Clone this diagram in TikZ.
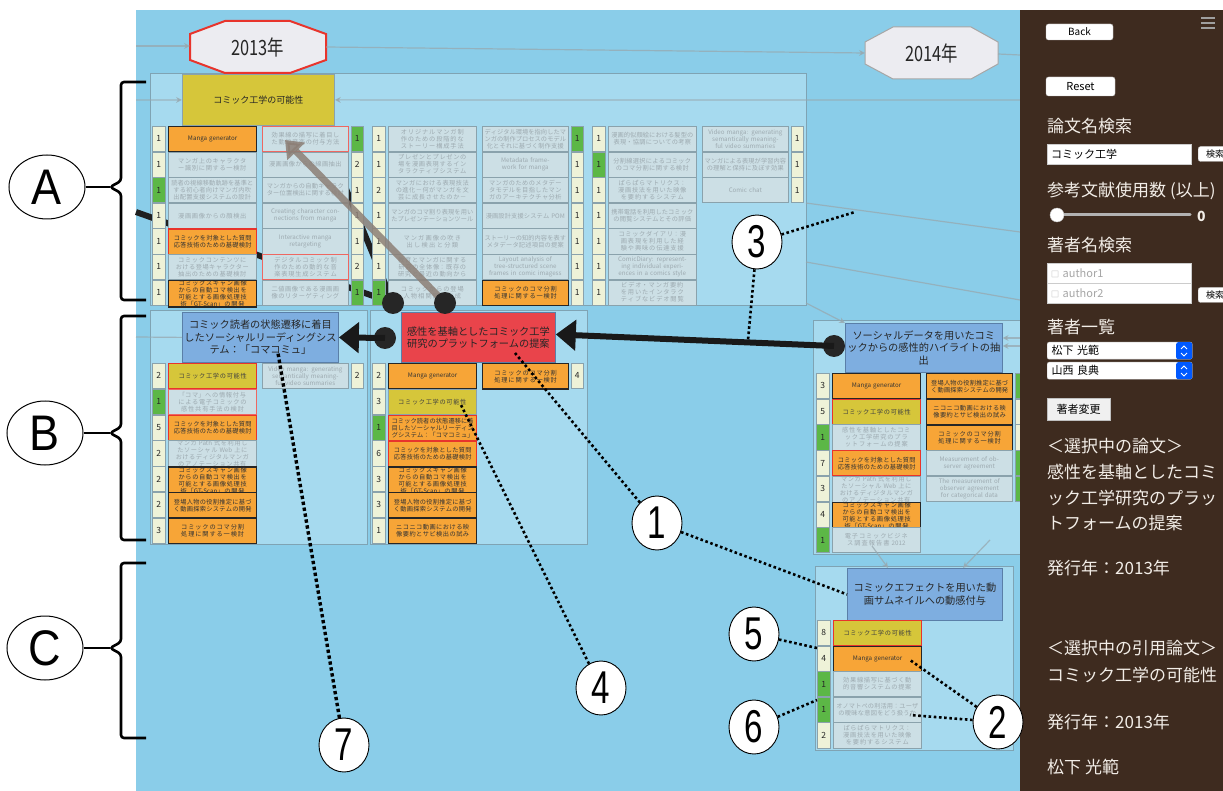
\documentclass[tikz,border=0pt]{standalone}
\usepackage{fontspec}
\setmainfont{Noto Sans CJK JP}
\newfontfamily\numfont{Liberation Sans}
\XeTeXlinebreaklocale "ja"
\XeTeXlinebreakskip=0pt plus 1pt
\usetikzlibrary{arrows.meta,shapes.geometric}

\definecolor{canvas}{HTML}{8ACDE9}
\definecolor{regionfill}{HTML}{A6DAEF}
\definecolor{regionline}{HTML}{7FA3B3}
\definecolor{paperfill}{HTML}{CCDFE5}
\definecolor{paperline}{HTML}{8AA2AC}
\definecolor{papertext}{HTML}{9DAAB0}
\definecolor{cream}{HTML}{EEF2D8}
\definecolor{grn}{HTML}{5CB746}
\definecolor{orng}{HTML}{F7A537}
\definecolor{yelw}{HTML}{D6C63A}
\definecolor{redb}{HTML}{E8342C}
\definecolor{bluenode}{HTML}{7EAEE0}
\definecolor{nodeline}{HTML}{5A7FA8}
\definecolor{rednode}{HTML}{E9444B}
\definecolor{panel}{HTML}{3E2B1F}
\definecolor{paneltext}{HTML}{F2EDE7}
\definecolor{linkgray}{HTML}{98A8AF}
\definecolor{taupe}{HTML}{8C7F76}
\definecolor{yearfill}{HTML}{ECECF1}

\newcommand\smallpaper{\fontsize{6.2}{7}\selectfont}

% one citation row: count box on the left, title box to its right
\newcommand\lrow[7]{%
  \node[tally,#4] (#1n) at (#2,#3) {#5};
  \node[paper,#6] (#1) at ([xshift=16pt]#2,#3) {#7};}
% one citation row in the second column: title box, count box on the right
\newcommand\rrow[7]{%
  \node[paper,pwide,#4] (#1) at ([xshift=110pt]#2,#3) {#5};
  \node[tally,tallyr,#6] (#1n) at ([xshift=199pt]#2,#3) {#7};}
% thin numerals for the call-outs
\newcommand\callout[1]{\scalebox{0.72}[1]{#1}}

\tikzset{
  paper/.style={anchor=north west, draw=paperline, fill=paperfill, text=papertext,
    line width=0.6pt, minimum width=88pt, minimum height=25.2pt, text width=85pt,
    align=center, inner sep=0pt, font=\smallpaper},
  pwide/.style={minimum width=86pt, text width=83pt},
  orb/.style={fill=orng, draw=black!85, line width=1.3pt, text=black!80},
  orr/.style={fill=orng, draw=redb, line width=1.3pt, text=black!80},
  yelr/.style={fill=yelw, draw=redb, line width=1.3pt, text=black!75},
  yelg/.style={fill=yelw, draw=paperline, text=black!75},
  grr/.style={draw=redb!75, line width=1pt},
  tally/.style={anchor=north west, draw=paperline, fill=cream, line width=0.6pt,
    minimum width=13pt, minimum height=25.2pt, inner sep=0pt,
    font=\fontsize{8.5}{9}\selectfont, text=black!85},
  tallyr/.style={minimum width=12pt},
  greenbox/.style={fill=grn},
  region/.style={draw=regionline, fill=regionfill, line width=0.8pt},
  mainnode/.style={anchor=north west, draw=nodeline, line width=0.8pt, align=center,
    inner sep=2pt, font=\fontsize{10.2}{12.5}\selectfont, text=black!85},
  link/.style={draw=linkgray, line width=1.2pt, opacity=0.75},
  linkarrow/.style={link, -{Stealth[length=6pt,width=6pt]}},
  blackline/.style={draw=black!88, line width=6pt},
  hub/.style={circle, fill=black!85, minimum size=22pt, inner sep=0pt},
  bigarrow/.style={draw=black!90, line width=6pt, -{Triangle[length=20pt,width=30pt]}},
  taupearrow/.style={draw=taupe, line width=7pt, opacity=0.85, -{Triangle[length=16pt,width=24pt]}},
  dots/.style={draw=black, line width=2.6pt, dash pattern=on 2.6pt off 2.6pt},
  numnode/.style={ellipse, draw=black, line width=0.9pt, fill=white, minimum width=50pt,
    minimum height=54pt, inner sep=0pt, font=\numfont\fontsize{46}{46}\selectfont},
  letternode/.style={ellipse, draw=black, line width=1pt, fill=white, minimum width=76pt,
    minimum height=64pt, inner sep=0pt, font=\numfont\fontsize{50}{50}\selectfont},
  brace/.style={draw=black, line width=2.6pt, rounded corners=3pt},
  yearshape/.style={fill=yearfill, line width=1pt},
  yearlabel/.style={minimum width=136pt, minimum height=52pt, inner sep=0pt,
    font=\fontsize{21}{21}\selectfont, text=black!85},
  paneltxt/.style={anchor=west, text=paneltext, inner sep=0pt, font=\fontsize{17}{17}\selectfont},
  btn/.style={fill=white, draw=gray!50, rounded corners=2.5pt, inner sep=0pt, text=black},
  field/.style={anchor=north west, fill=white, draw=gray!40, inner sep=0pt, text width=140pt,
    minimum width=144pt, minimum height=20pt, align=left, font=\fontsize{11}{11}\selectfont},
}

\begin{document}
\begin{tikzpicture}[x=1pt,y=-1pt]
\useasboundingbox (0,0) rectangle (1223,791);
\fill[white] (0,0) rectangle (1223,791);
\fill[canvas] (136,10) rectangle (1020,791);

% ---------- group frames ----------
\draw[region] (150,73) rectangle (806,305);
\draw[region] (150,310) rectangle (367,544);
\draw[region] (370,310) rectangle (587,544);
\draw[region] (813,320) rectangle (1030,554);
\draw[region] (815,566) rectangle (1013,750);

% ---------- year labels ----------
\draw[yearshape, draw=redb, line width=2pt] (190,34) -- (225,21) -- (290,21) -- (326,34)
  -- (326,60) -- (290,73) -- (225,73) -- (190,60) -- cycle;
\node[yearlabel] (y13) at (258,47) {\scalebox{0.78}[1]{2013年}};
\draw[yearshape, draw=gray!70] (865,42) -- (893,27) -- (971,27) -- (998,42)
  -- (998,64) -- (971,79) -- (893,79) -- (865,64) -- cycle;
\node[yearlabel, minimum width=133pt] (y14) at (931.5,53) {\scalebox{0.78}[1]{2014年}};

% ---------- faint citation links ----------
\coordinate (yl0) at (136,46);
\coordinate (yl1) at (1020,55);
\draw[linkarrow] (yl0) -- (190,46);
\draw[linkarrow] (326,47) -- (865,53);
\draw[link] (998,54) -- (yl1);
\coordinate (hl0) at (136,100);
\coordinate (hl1) at (1020,100);
\coordinate (bl0) at (136,337);
\coordinate (fl1) at (806,203);
\coordinate (fl2) at (1020,232);
\coordinate (fl3) at (806,262);
\coordinate (fl4) at (1020,300);
\coordinate (fl5) at (806,303);
\coordinate (fl6) at (1020,338);
\coordinate (fl7) at (1020,346);
\coordinate (fl8) at (872,546);
\coordinate (fl9) at (990,540);
\draw[link] (fl1) -- (fl2);
\draw[link] (fl3) -- (fl4);

% ---------- main papers ----------
\node[mainnode, fill=yelw, draw=paperline, minimum width=152pt, minimum height=51pt,
  font=\fontsize{9}{11}\selectfont] (kk) at (182,74) {コミック工学の可能性};
\draw[linkarrow] (hl0) -- (kk.west);
\draw[linkarrow] (hl1) -- (kk.east);

% thick links running beneath the rows
\coordinate (j1) at (393,303);
\coordinate (j2) at (445,303);
\coordinate (lA) at (136,212);
\coordinate (lB) at (330,150);
\draw[blackline] (lA) -- (j1);
\draw[blackline] (lB) -- (j1);

% ---------- first group of 2013 ----------
\lrow{ga1}{152}{126}{}{1}{orb}{Manga generator}
\lrow{ga2}{152}{151.6}{}{1}{}{マンガ上のキャラクター識別に関する一検討}
\lrow{ga3}{152}{177.2}{greenbox}{1}{}{読者の視線移動軌跡を基準とする初心者向けマンガ内吹出配置支援システムの設計}
\lrow{ga4}{152}{202.8}{}{1}{}{漫画画像からの顔検出}
\lrow{ga5}{152}{228.4}{}{1}{orr}{コミックを対象とした質問応答技術のための基礎検討}
\lrow{ga6}{152}{254}{}{1}{}{コミックコンテンツにおける登場キャラクター抽出のための基礎検討}
\lrow{ga7}{152}{279.6}{}{1}{orb}{コミックスキャン画像からの自動コマ検出を可能とする画像処理技術「GT-Scan」の開発}
\rrow{gb1}{152}{126}{grr}{効果線の描写に着目した動的音楽の付与方法}{greenbox}{1}
\rrow{gb2}{152}{151.6}{}{漫画画像からの線画抽出}{}{2}
\rrow{gb3}{152}{177.2}{}{マンガからの自動キャラクター位置検出に関する検討}{}{1}
\rrow{gb4}{152}{202.8}{}{Creating character connections from manga}{}{1}
\rrow{gb5}{152}{228.4}{}{Interactive manga retargeting}{}{1}
\rrow{gb6}{152}{254}{grr}{デジタルコミック制作のための動的な音楽表現生成システム}{}{2}
\rrow{gb7}{152}{279.6}{}{二値画像である漫画画像のリターゲティング}{greenbox}{1}

\lrow{ha1}{372}{126}{}{1}{}{オリジナルマンガ制作のための段階的なストーリー構成手法}
\lrow{ha2}{372}{151.6}{}{1}{}{プレゼンとプレゼンの場を漫画表現するインタラクティブシステム}
\lrow{ha3}{372}{177.2}{}{2}{}{マンガにおける表現技法の進化－何がマンガを文芸に成長させたのか－}
\lrow{ha4}{372}{202.8}{}{1}{}{マンガのコマ割り表現を用いたプレゼンテーションツール}
\lrow{ha5}{372}{228.4}{}{1}{}{マンガ画像の吹き出し検出と分類}
\lrow{ha6}{372}{254}{}{1}{}{教育とマンガに関する研究の全体像：既存の研究と最近の動向から}
\lrow{ha7}{372}{279.6}{greenbox}{1}{}{コミックからの登場人物相関図の作成}
\rrow{hb1}{372}{126}{}{ディジタル環境を指向したマンガの制作プロセスのモデル化とそれに基づく制作支援}{greenbox}{1}
\rrow{hb2}{372}{151.6}{}{Metadata framework for manga}{}{1}
\rrow{hb3}{372}{177.2}{}{マンガのためのメタデータモデルを目指したマンガのアーキテクチャ分析}{}{1}
\rrow{hb4}{372}{202.8}{}{漫画設計支援システム POM}{}{1}
\rrow{hb5}{372}{228.4}{}{ストーリーの知的内容を表すメタデータ記述項目の提案}{}{1}
\rrow{hb6}{372}{254}{}{Layout analysis of tree-structured scene frames in comic imagess}{}{1}
\rrow{hb7}{372}{279.6}{orb}{コミックのコマ分割処理に関する一検討}{}{1}

\lrow{ia1}{592}{126}{}{1}{}{漫画的似顔絵における髪型の表現・協調についての考察}
\lrow{ia2}{592}{151.6}{greenbox}{1}{}{分割線選択によるコミックのコマ分割に関する検討}
\lrow{ia3}{592}{177.2}{}{1}{}{ぱらぱらマトリクス：漫画技法を用いた映像を要約するシステム}
\lrow{ia4}{592}{202.8}{}{1}{}{携帯電話を利用したコミックの閲覧システムとその評価}
\lrow{ia5}{592}{228.4}{}{1}{}{コミックダイアリ：漫画表現を利用した経験や興味の伝達支援}
\lrow{ia6}{592}{254}{}{1}{}{ComicDiary: representing individual experiences in a comics style}
\lrow{ia7}{592}{279.6}{}{1}{}{ビデオ・マンガ要約を用いたインタラクティブなビデオ閲覧}
\rrow{ib1}{592}{126}{}{Video manga: generating semantically meaningful video summaries}{}{1}
\rrow{ib2}{592}{151.6}{}{マンガによる表現が学習内容の理解と保持に及ぼす効果}{}{1}
\rrow{ib3}{592}{177.2}{}{Comic chat}{}{1}

% ---------- second group of 2013 ----------
\node[mainnode, fill=bluenode, minimum width=152pt, minimum height=50pt] (ks) at (182,312)
  {コミック読者の状態遷移に着目\\したソーシャルリーディングシス\\テム：「コマコミュ」};
\draw[link] (bl0) -- (ks.west);
\lrow{ja1}{152}{363}{}{2}{yelr}{コミック工学の可能性}
\lrow{ja2}{152}{388.8}{greenbox}{1}{grr}{「コマ」への情報付与による電子コミックの感性共有手法の検討}
\lrow{ja3}{152}{414.6}{}{5}{orr}{コミックを対象とした質問応答技術のための基礎検討}
\lrow{ja4}{152}{440.4}{}{2}{}{マンガ Path 式を利用したソーシャル Web 上におけるディジタルマンガのアノテーション共有}
\lrow{ja5}{152}{466.2}{}{2}{orb}{コミックスキャン画像からの自動コマ検出を可能とする画像処理技術「GT-Scan」の開発}
\lrow{ja6}{152}{492}{}{2}{orb}{登場人物の役割推定に基づく動画探索システムの開発}
\lrow{ja7}{152}{517.8}{}{3}{orb}{コミックのコマ分割処理に関する一検討}
\rrow{jb1}{152}{363}{}{Video manga: generating semantically meaningful video summaries}{}{2}

\node[mainnode, fill=rednode, minimum width=154pt, minimum height=50pt] (kp) at (401,312)
  {感性を基軸としたコミック工学\\研究のプラットフォームの提案};
\lrow{ka1}{372}{363}{}{2}{orb}{Manga generator}
\lrow{ka2}{372}{388.8}{}{3}{yelg}{コミック工学の可能性}
\lrow{ka3}{372}{414.6}{greenbox}{1}{orr}{コミック読者の状態遷移に着目したソーシャルリーディングシステム：「コマコミュ」}
\lrow{ka4}{372}{440.4}{}{6}{orr}{コミックを対象とした質問応答技術のための基礎検討}
\lrow{ka5}{372}{466.2}{}{3}{orb}{コミックスキャン画像からの自動コマ検出を可能とする画像処理技術「GT-Scan」の開発}
\lrow{ka6}{372}{492}{}{3}{orb}{登場人物の役割推定に基づく動画探索システムの開発}
\lrow{ka7}{372}{517.8}{}{1}{orb}{ニコニコ動画における映像要約とサビ検出の試み}
\rrow{kb1}{372}{363}{orb}{コミックのコマ分割処理に関する一検討}{}{4}

% ---------- 2014 papers ----------
\node[mainnode, fill=bluenode, minimum width=154pt, minimum height=49pt] (kh) at (845,323)
  {ソーシャルデータを用いたコミ\\ックからの感性的ハイライトの抽\\出};
\draw[linkarrow] (fl5) -- (kh.north west);
\draw[linkarrow] (fl6) -- (kh.east |- fl6);
\draw[linkarrow] (fl7) -- (kh.east |- fl7);
\lrow{la1}{816}{373}{}{3}{orb}{Manga generator}
\lrow{la2}{816}{398.7}{}{5}{yelr}{コミック工学の可能性}
\lrow{la3}{816}{424.4}{greenbox}{1}{}{感性を基軸としたコミック工学研究のプラットフォームの提案}
\lrow{la4}{816}{450.1}{}{7}{orr}{コミックを対象とした質問応答技術のための基礎検討}
\lrow{la5}{816}{475.8}{}{3}{}{マンガ Path 式を利用したソーシャル Web 上におけるディジタルマンガのアノテーション共有}
\lrow{la6}{816}{501.5}{}{4}{orb}{コミックスキャン画像からの自動コマ検出を可能とする画像処理技術「GT-Scan」の開発}
\lrow{la7}{816}{527.2}{greenbox}{1}{}{電子コミックビジネス調査報告書 2012}
\rrow{lb1}{816}{373}{orb}{登場人物の役割推定に基づく動画探索システムの開発}{greenbox}{}
\rrow{lb2}{816}{398.7}{orb}{ニコニコ動画における映像要約とサビ検出の試み}{}{}
\rrow{lb3}{816}{424.4}{orb}{コミックのコマ分割処理に関する一検討}{}{}
\rrow{lb4}{816}{450.1}{}{Measurement of observer agreement}{greenbox}{}
\rrow{lb5}{816}{475.8}{}{The measurement of observer agreement for categorical data}{greenbox}{}

\node[mainnode, fill=bluenode, minimum width=155pt, minimum height=52pt] (kd) at (847,568)
  {コミックエフェクトを用いた動\\画サムネイルへの動感付与};
\draw[linkarrow] (fl8) -- ([xshift=41pt]kd.north west);
\draw[linkarrow] (fl9) -- ([xshift=116pt]kd.north west);
\lrow{ma1}{817}{620}{}{8}{yelr}{コミック工学の可能性}
\lrow{ma2}{817}{645.6}{}{4}{orb}{Manga generator}
\lrow{ma3}{817}{671.2}{greenbox}{1}{}{効果線描写に基づく動的音響システムの提案}
\lrow{ma4}{817}{696.8}{greenbox}{1}{}{オノマトペの利活用：ユーザの曖昧な意図をどう扱うか}
\lrow{ma5}{817}{722.4}{}{2}{}{ぱらぱらマトリクス：漫画技法を用いた映像を要約するシステム}

% ---------- highlighted citation links ----------
\coordinate (gtip) at (285,140);
\draw[taupearrow] (j2) -- (gtip);
\node[hub] (h1) at (j1) {};
\node[hub] (h2) at (j2) {};
\node[hub] (h3) at (385,338) {};
\node[hub] (h4) at (834,346) {};
\draw[bigarrow] (h3.center) -- (ks.east);
\draw[bigarrow] (h4.center) -- ([yshift=3pt]kp.east);

% ---------- bracket labels ----------
\node[letternode] (lA) at (47,187) {\scalebox{0.9}[1]{A}};
\node[letternode] (lB) at (45,433) {\scalebox{0.9}[1]{B}};
\node[letternode] (lC) at (45,648) {\scalebox{0.9}[1]{C}};
\coordinate (tA) at (110,187);
\coordinate (tB) at (110,433);
\coordinate (tC) at (110,648);
\draw[brace] (146,82) -- (121,82) -- (121,181) -- (tA) -- (121,193) -- (121,300) -- (146,300);
\draw[brace] (146,316) -- (121,316) -- (121,427) -- (tB) -- (121,439) -- (121,540) -- (146,540);
\draw[brace] (146,563) -- (121,563) -- (121,642) -- (tC) -- (121,654) -- (121,738) -- (146,738);
\draw[brace] (lA) -- (tA);
\draw[brace] (lB) -- (tB);
\draw[brace] (lC) -- (tC);

% ---------- numbered call-outs ----------
\node[numnode] (n1) at (657,523) {\callout{1}};
\node[numnode] (n3) at (757,242) {\callout{3}};
\node[numnode] (n4) at (601,688) {\callout{4}};
\node[numnode] (n5) at (754,634) {\callout{5}};
\node[numnode] (n6) at (754,727) {\callout{6}};
\node[numnode] (n7) at (344,745) {\callout{7}};
\coordinate (p1a) at (515,353);
\coordinate (p3a) at (855,212);
\coordinate (p3b) at (748,340);
\coordinate (p4) at (460,403);
\coordinate (p5) at (817,648);
\coordinate (p6) at (817,700);
\coordinate (p7) at (278,353);
\draw[dots] (n1) -- (p1a);
\draw[dots] (n1) -- (kd.west);
\draw[dots] (n3) -- (p3a);
\draw[dots] (n3) -- (p3b);
\draw[dots] (n4) -- (p4);
\draw[dots] (n5) -- (p5);
\draw[dots] (n6) -- (p6);
\draw[dots, line width=3.4pt, dash pattern=on 3.4pt off 2.6pt] (n7) -- (p7);

% ---------- side panel ----------
\fill[panel] (1020,10) rectangle (1223,791);
\begin{scope}
\clip (1020,10) rectangle (1223,791);
\node[btn, minimum width=67pt, minimum height=16pt, font=\fontsize{10}{10}\selectfont] (back) at (1079.5,32) {Back};
\draw[gray!75, line width=1.6pt] (1201,18) -- (1215,18) (1201,23) -- (1215,23) (1201,28) -- (1215,28);
\node[btn, minimum width=69pt, minimum height=19pt, font=\fontsize{11}{11}\selectfont] (reset) at (1080.5,86.5) {Reset};
\node[paneltxt] (t1) at (1047,126) {論文名検索};
\node[field] (f1) at (1047,144) {\,コミック工学};
\node[btn, anchor=west, minimum width=34pt, minimum height=15pt, font=\fontsize{9}{9}\selectfont] (s1) at (1198,154) {検索};
\node[paneltxt] (t2) at (1047,191) {参考文献使用数 (以上)};
\draw[gray!60, line width=3pt, line cap=round] (1057,215) -- (1190,215);
\node[circle, fill=white, draw=gray!50, minimum size=14pt, inner sep=0pt] (knob) at (1057,215) {};
\node[anchor=west, text=paneltext, font=\bfseries\fontsize{14}{14}\selectfont, inner sep=0pt] (zero) at (1197,216) {0};
\node[paneltxt] (t3) at (1047,245) {著者名検索};
\node[field, text=gray!70] (f2) at (1047,263) {\,{\fontsize{8}{8}\selectfont □} author1};
\node[field, text=gray!70] (f3) at (1047,283) {\,{\fontsize{8}{8}\selectfont □} author2};
\node[btn, anchor=west, minimum width=34pt, minimum height=15pt, font=\fontsize{9}{9}\selectfont] (s2) at (1198,295) {検索};
\node[paneltxt] (t4) at (1047,327) {著者一覧};
\node[field, minimum width=145pt, minimum height=17pt, rounded corners=2pt] (sel1) at (1047,342) {\,松下 光範};
\node[field, minimum width=145pt, minimum height=17pt, rounded corners=2pt] (sel2) at (1047,362) {\,山西 良典};
\node[anchor=north west, fill=blue!65!cyan, rounded corners=2pt, minimum width=16pt, minimum height=17pt, inner sep=0pt] (sb1) at (1176,342) {};
\node[anchor=north west, fill=blue!65!cyan, rounded corners=2pt, minimum width=16pt, minimum height=17pt, inner sep=0pt] (sb2) at (1176,362) {};
\draw[white, line width=0.8pt] (1181,349) -- (1184,346) -- (1187,349) (1181,353) -- (1184,356) -- (1187,353);
\draw[white, line width=0.8pt] (1181,369) -- (1184,366) -- (1187,369) (1181,373) -- (1184,376) -- (1187,373);
\node[anchor=north west, fill=gray!12, draw=gray!50, minimum width=63pt, minimum height=22pt, inner sep=0pt,
  font=\fontsize{11}{11}\selectfont] (chg) at (1047,398) {著者変更};
\node[paneltxt] (t5) at (1047,446) {＜選択中の論文＞};
\node[paneltxt] (t6) at (1047,472) {感性を基軸としたコミ};
\node[paneltxt] (t7) at (1047,498) {ック工学研究のプラッ};
\node[paneltxt] (t8) at (1047,523) {トフォームの提案};
\node[paneltxt] (t9) at (1047,568) {発行年：2013年};
\node[paneltxt] (t10) at (1047,648) {＜選択中の引用論文＞};
\node[paneltxt] (t11) at (1047,675) {コミック工学の可能性};
\node[paneltxt] (t12) at (1047,722) {発行年：2013年};
\node[paneltxt] (t13) at (1047,767) {松下 光範};
\end{scope}

% call-out reaching over the panel edge
\node[numnode] (n2) at (998,722) {\callout{2}};
\coordinate (p2a) at (910,660);
\coordinate (p2b) at (910,715);
\draw[dots] (n2) -- (p2a);
\draw[dots] (n2) -- (p2b);
\end{tikzpicture}
\end{document}
